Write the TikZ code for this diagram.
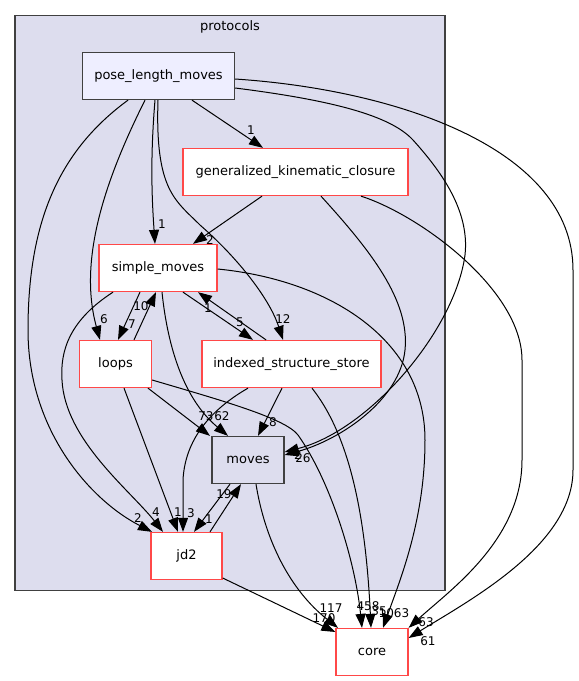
\documentclass[tikz,border=0pt]{standalone}
\usepackage{fontspec}
\setmainfont{DejaVu Sans}
\usetikzlibrary{arrows.meta}
\definecolor{clusterfill}{RGB}{221,221,238}
\definecolor{plmfill}{RGB}{238,238,255}
\definecolor{redborder}{RGB}{255,72,72}
\definecolor{grayborder}{RGB}{64,64,64}
\tikzset{
  dirbox/.style={draw=redborder, fill=white, line width=1.3pt, inner sep=0pt,
    font=\fontsize{13}{15}\selectfont},
  graybox/.style={draw=grayborder, line width=1.3pt, inner sep=0pt,
    font=\fontsize{13}{15}\selectfont},
  dep/.style={line width=1pt, -{Triangle[length=14pt,width=10pt]}},
  elabel/.style={inner sep=0pt, font=\fontsize{12}{13}\selectfont}
}
\begin{document}
\begin{tikzpicture}[x=1pt,y=-1pt]
\useasboundingbox (0,0) rectangle (579,681);
% cluster
\node[draw=grayborder, fill=clusterfill, line width=1.2pt, minimum width=430pt, minimum height=575pt, inner sep=0pt] (protocols) at (230,303) {};
\node[font=\fontsize{13}{15}\selectfont, inner sep=0pt] (protocolslabel) at (230,27) {protocols};
% nodes
\node[graybox, fill=plmfill, minimum width=152pt, minimum height=47pt] (plm) at (158.5,76) {pose\_length\_moves};
\node[dirbox, minimum width=225pt, minimum height=47pt] (gkc) at (295.5,172) {generalized\_kinematic\_closure};
\node[dirbox, minimum width=118pt, minimum height=47pt] (sm) at (158,268) {simple\_moves};
\node[dirbox, minimum width=72pt, minimum height=47pt] (loops) at (115.5,364) {loops};
\node[dirbox, minimum width=179pt, minimum height=47pt] (iss) at (291.5,364) {indexed\_structure\_store};
\node[graybox, fill=clusterfill, minimum width=72pt, minimum height=47pt] (moves) at (248,460) {moves};
\node[dirbox, minimum width=71pt, minimum height=47pt] (jd2) at (186.5,556) {jd2};
\node[dirbox, minimum width=72pt, minimum height=47pt] (core) at (372,652) {core};
% edges
\draw[dep] (192,0 |- plm.south) -- (263,0 |- gkc.north);
\draw[dep] (155,0 |- plm.south) .. controls (150,160) and (152,200) .. (155,0 |- sm.north);
\draw[dep] (145,0 |- plm.south) .. controls (105,180) and (78,260) .. (100,0 |- loops.north);
\draw[dep] (128,0 |- plm.south) .. controls (60,150) and (28,220) .. (28,330) .. controls (28,430) and (90,500) .. (152,0 |- jd2.north);
\draw[dep] (158,0 |- plm.south) .. controls (155,190) and (175,200) .. (200,225) .. controls (240,260) and (270,300) .. (283,0 |- iss.north);
\draw[dep] (plm.east |- 0,88) .. controls (330,100) and (390,115) .. (413,140) .. controls (440,170) and (470,210) .. (465,255) .. controls (455,330) and (370,430) .. (moves.east |- 0,452);
\draw[dep] (plm.east |- 0,79) .. controls (400,90) and (573,150) .. (573,270) -- (573,470) .. controls (573,545) and (470,600) .. (core.east |- 0,638);
\draw[dep] (262,0 |- gkc.south) -- (193,0 |- sm.north);
\draw[dep] (321,0 |- gkc.south) .. controls (370,250) and (410,300) .. (405,350) .. controls (400,400) and (340,440) .. (moves.east |- 0,455);
\draw[dep] (361,0 |- gkc.south) .. controls (420,215) and (522,290) .. (522,360) -- (522,460) .. controls (522,540) and (450,590) .. (core.north east);
\draw[dep] (140,0 |- sm.south) -- (118,0 |- loops.north);
\draw[dep] (134,0 |- loops.north) -- (156,0 |- sm.south);
\draw[dep] (183,0 |- sm.south) -- (253,0 |- iss.north);
\draw[dep] (266,0 |- iss.north) -- (198,0 |- sm.south);
\draw[dep] (162,0 |- sm.south) .. controls (168,350) and (185,400) .. (228,0 |- moves.north);
\draw[dep] (113,0 |- sm.south) .. controls (70,320) and (60,350) .. (62,380) .. controls (65,440) and (130,490) .. (163,0 |- jd2.north);
\draw[dep] (sm.east |- 0,269) .. controls (330,280) and (425,340) .. (425,440) .. controls (425,520) and (400,580) .. (383,0 |- core.north);
\draw[dep] (148,0 |- loops.south) -- (210,0 |- moves.north);
\draw[dep] (124,0 |- loops.south) -- (178,0 |- jd2.north);
\draw[dep] (loops.east |- 0,380) .. controls (220,400) and (285,418) .. (298,435) .. controls (330,480) and (355,560) .. (362,0 |- core.north);
\draw[dep] (282,0 |- iss.south) -- (258,0 |- moves.north);
\draw[dep] (248,0 |- iss.south) .. controls (210,410) and (185,440) .. (183,480) -- (183,0 |- jd2.north);
\draw[dep] (312,0 |- iss.south) .. controls (345,430) and (365,500) .. (371,0 |- core.north);
\draw[dep] (230,0 |- moves.south) -- (194,0 |- jd2.north);
\draw[dep] (210,0 |- jd2.north) -- (241,0 |- moves.south);
\draw[dep] (256,0 |- moves.south) .. controls (265,540) and (290,590) .. (338,0 |- core.north);
\draw[dep] (jd2.east |- 0,578) -- (core.west |- 0,632);
% edge labels
\node[elabel] (l1) at (251,130) {1};
\node[elabel] (l2) at (162,224) {1};
\node[elabel] (l3) at (104,319) {6};
\node[elabel] (l4) at (138,518) {2};
\node[elabel] (l5) at (283,319) {12};
\node[elabel] (l6a) at (298,455) {2};
\node[elabel] (l6b) at (303,458) {26};
\node[elabel] (l7) at (428,641) {61};
\node[elabel] (l8) at (210,240) {2};
\node[elabel] (l10) at (426,622) {63};
\node[elabel] (l11) at (132,324) {7};
\node[elabel] (l12) at (141,306) {10};
\node[elabel] (l13) at (240,322) {5};
\node[elabel] (l14) at (208,308) {1};
\node[elabel] (l15) at (222,416) {62};
\node[elabel] (l16) at (156,512) {4};
\node[elabel] (l17) at (394,613) {1063};
\node[elabel] (l18) at (206,416) {73};
\node[elabel] (l19) at (178,512) {1};
\node[elabel] (l20) at (368,606) {458};
\node[elabel] (l21) at (273,422) {8};
\node[elabel] (l22) at (191,513) {3};
\node[elabel] (l23) at (379,611) {35};
\node[elabel] (l24) at (209,519) {1};
\node[elabel] (l25) at (224,494) {19};
\node[elabel] (l26) at (331,608) {117};
\node[elabel] (l27) at (324,618) {170};
\end{tikzpicture}
\end{document}
